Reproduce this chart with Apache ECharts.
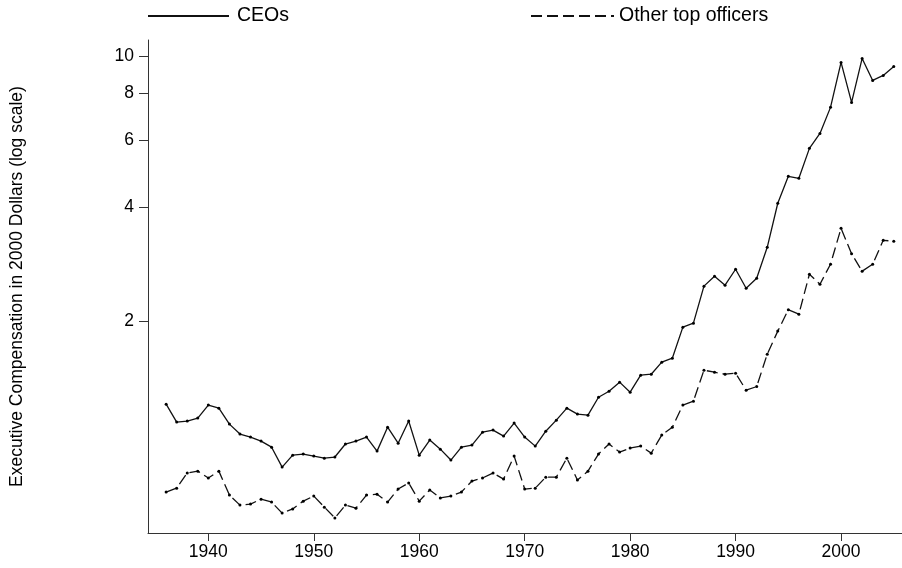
<!DOCTYPE html>
<html>
<head>
<meta charset="utf-8">
<script src="https://cdn.jsdelivr.net/npm/echarts@6/dist/echarts.min.js"></script>
<style>
html,body{margin:0;padding:0;background:#fff;}
#chart{width:902px;height:568px;}
</style>
</head>
<body>
<div id="chart"></div>
<script>
const years = [1936,1937,1938,1939,1940,1941,1942,1943,1944,1945,1946,1947,1948,1949,1950,1951,1952,1953,1954,1955,1956,1957,1958,1959,1960,1961,1962,1963,1964,1965,1966,1967,1968,1969,1970,1971,1972,1973,1974,1975,1976,1977,1978,1979,1980,1981,1982,1983,1984,1985,1986,1987,1988,1989,1990,1991,1992,1993,1994,1995,1996,1997,1998,1999,2000,2001,2002,2003,2004,2005];
const ceos = [1.208,1.083,1.090,1.110,1.201,1.179,1.070,1.007,0.989,0.965,0.930,0.824,0.886,0.892,0.881,0.870,0.876,0.948,0.965,0.989,0.908,1.050,0.953,1.090,0.886,0.971,0.919,0.860,0.930,0.942,1.019,1.032,0.995,1.077,0.989,0.936,1.025,1.096,1.179,1.137,1.130,1.260,1.307,1.381,1.299,1.441,1.449,1.559,1.597,1.929,1.976,2.475,2.629,2.489,2.743,2.444,2.597,3.134,4.096,4.826,4.768,5.719,6.264,7.337,9.643,7.562,9.879,8.643,8.909,9.411];
const others = [0.708,0.725,0.795,0.804,0.771,0.804,0.695,0.654,0.658,0.678,0.666,0.623,0.639,0.670,0.691,0.646,0.605,0.654,0.642,0.695,0.699,0.666,0.721,0.748,0.670,0.717,0.683,0.691,0.708,0.757,0.771,0.795,0.766,0.881,0.721,0.725,0.775,0.775,0.870,0.762,0.804,0.892,0.948,0.903,0.925,0.936,0.897,1.001,1.050,1.201,1.230,1.485,1.467,1.449,1.458,1.315,1.344,1.637,1.883,2.145,2.087,2.661,2.504,2.828,3.518,3.014,2.710,2.828,3.271,3.251];
const xTicks = [1940,1950,1960,1970,1980,1990,2000];
const yTicks = [2,4,6,8,10];
const seriesNames = ['CEOs','Other top officers'];

const font = '"Liberation Sans", Arial, sans-serif';
const fs = 17.5;
const lfs = 19.5;
const chart = echarts.init(document.getElementById('chart'), null, {renderer:'canvas'});
const pair = (arr) => years.map((y,i)=>[y,arr[i]]);
chart.setOption({
  animation:false,
  backgroundColor:'#fff',
  textStyle:{fontFamily:font},
  grid:{left:148, top:40, right:0, bottom:35, containLabel:false},
  legend:[
    {data:[seriesNames[0]], left:147, top:6, padding:0, itemWidth:81, itemHeight:20, itemStyle:{opacity:0},
     textStyle:{fontFamily:font, fontSize:lfs, color:'#000', padding:[0,0,0,3]}},
    {data:[seriesNames[1]], left:530, top:6, padding:0, itemWidth:83, itemHeight:20, itemStyle:{opacity:0},
     textStyle:{fontFamily:font, fontSize:lfs, color:'#000'}}
  ],
  xAxis:{
    type:'value', min:1934.28, max:2005.78,
    axisLine:{show:true, lineStyle:{color:'#333', width:1}},
    axisTick:{show:true, length:8, customValues:xTicks, lineStyle:{color:'#333'}},
    axisLabel:{customValues:xTicks, margin:10, fontSize:fs, color:'#000', fontFamily:font,
               formatter:(v)=>String(v)},
    splitLine:{show:false}
  },
  yAxis:{
    type:'log', logBase:10, min:0.552, max:11.05,
    name:'Executive Compensation in 2000 Dollars (log scale)',
    nameLocation:'middle', nameGap:122, nameRotate:90,
    nameTextStyle:{fontSize:fs, color:'#000', fontFamily:font},
    axisLine:{show:true, lineStyle:{color:'#333', width:1}},
    axisTick:{show:true, length:9, customValues:yTicks, lineStyle:{color:'#333'}},
    axisLabel:{customValues:yTicks, margin:14, fontSize:fs, color:'#000', fontFamily:font,
               formatter:(v)=>String(Math.round(v))},
    splitLine:{show:false}, minorTick:{show:false}
  },
  series:[
    {name:seriesNames[0], type:'line', data:pair(ceos), symbol:'circle', symbolSize:3, showAllSymbol:true,
     lineStyle:{color:'#111', width:1.3, type:'solid'}, itemStyle:{color:'#000'}},
    {name:seriesNames[1], type:'line', data:pair(others), symbol:'circle', symbolSize:3, showAllSymbol:true,
     lineStyle:{color:'#111', width:1.3, type:[11,5]}, itemStyle:{color:'#000'}}
  ]
});
</script>
</body>
</html>
